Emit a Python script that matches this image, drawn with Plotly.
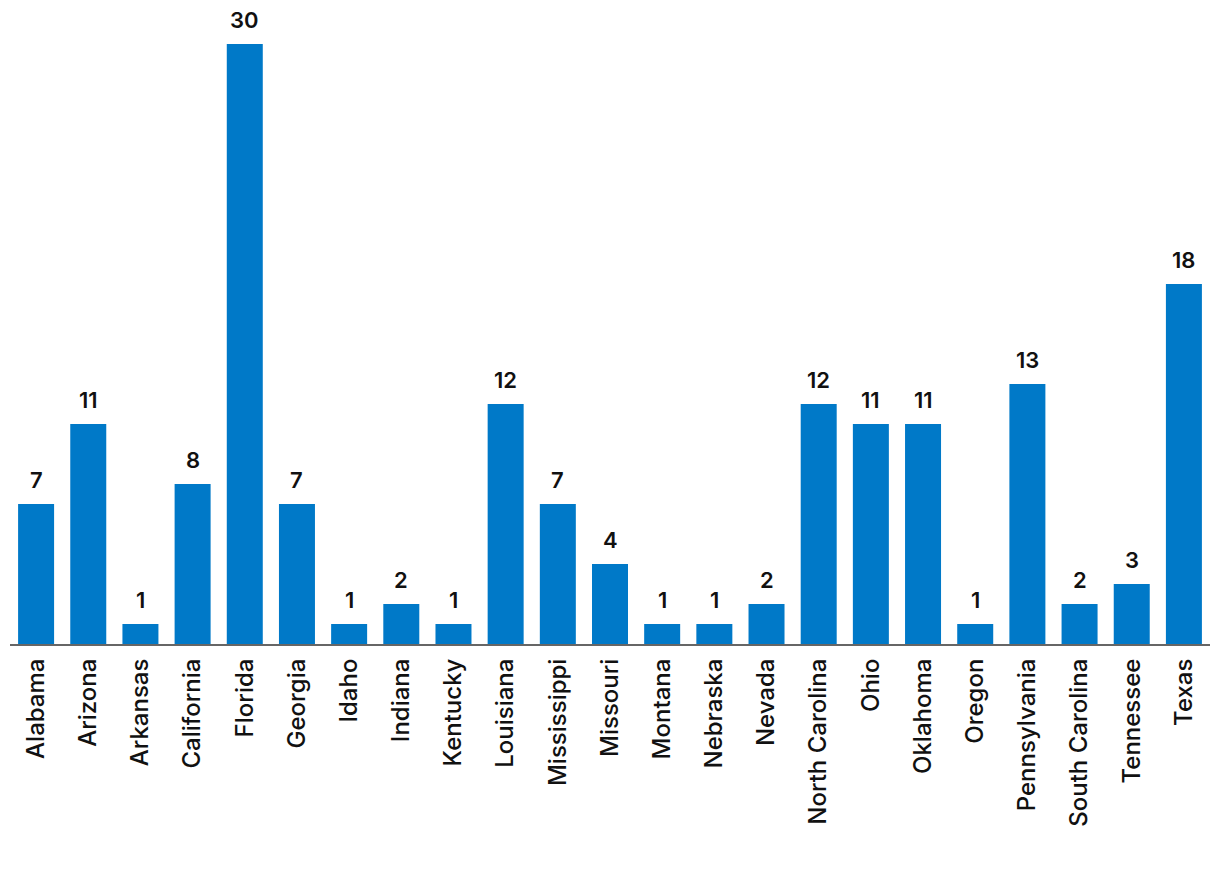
import plotly.graph_objects as go

states = ["Alabama", "Arizona", "Arkansas", "California", "Florida", "Georgia", "Idaho",
          "Indiana", "Kentucky", "Louisiana", "Mississippi", "Missouri", "Montana",
          "Nebraska", "Nevada", "North Carolina", "Ohio", "Oklahoma", "Oregon",
          "Pennsylvania", "South Carolina", "Tennessee", "Texas"]
counts = [7, 11, 1, 8, 30, 7, 1, 2, 1, 12, 7, 4, 1, 1, 2, 12, 11, 11, 1, 13, 2, 3, 18]

bar_color = "#0079C8"
font_family = "Inter, Roboto, Arial, sans-serif"
label_font = dict(family=font_family, size=22, color="#111111", weight=600)
tick_font = dict(family=font_family, size=24, color="#111111", weight=500)

fig = go.Figure(go.Bar(
    x=states, y=counts,
    marker=dict(color=bar_color, line=dict(width=0)),
    hoverinfo="x+y",
))

for s, v in zip(states, counts):
    fig.add_annotation(
        x=s, y=v, text=str(v), showarrow=False,
        xanchor="center", yanchor="bottom", yshift=9,
        font=label_font,
    )

fig.update_layout(
    width=1220, height=874,
    margin=dict(l=2, r=18, t=36, b=238),
    paper_bgcolor="white", plot_bgcolor="white",
    bargap=0.31,
    showlegend=False,
    font=dict(family=font_family),
)
fig.update_xaxes(
    tickangle=-90,
    tickfont=tick_font,
    showline=True, linecolor="#666666", linewidth=2,
    showgrid=False, ticks="", ticklabelstandoff=3,
)
fig.update_yaxes(
    range=[0, 30], visible=False, showgrid=False, zeroline=False,
)

fig.write_html("out.html")
